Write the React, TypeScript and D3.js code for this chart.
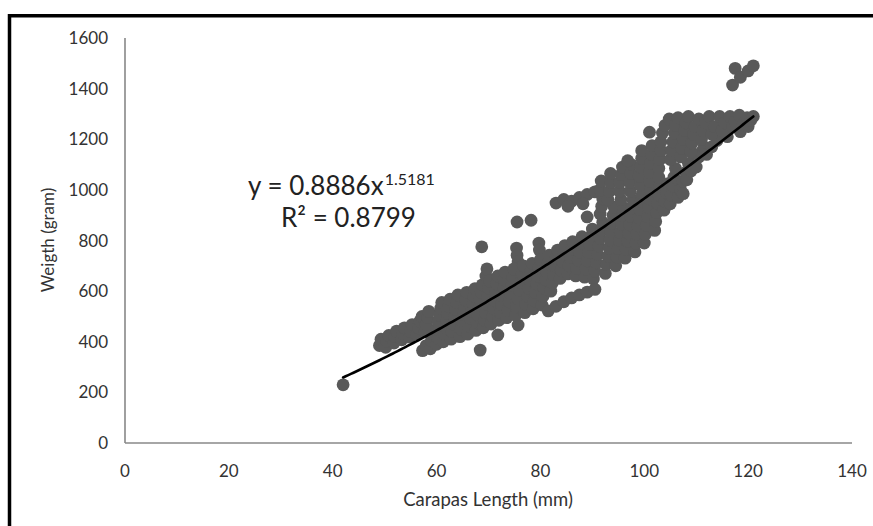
import React from "react";
import * as d3 from "d3";

// ---- data ----
const xTicks = [0, 20, 40, 60, 80, 100, 120, 140];
const yTicks = [0, 200, 400, 600, 800, 1000, 1200, 1400, 1600];
const xTitle = "Carapas Length (mm)";
const yTitle = "Weigth (gram)";
const trendA = 0.8886;
const trendB = 1.5181;
const trendRange = [42, 121];
const eqLine1 = "y = 0.8886x";
const eqSup = "1.5181";
const eqLine2 = "R² = 0.8799";

// [carapace length (mm), weight (g)]
const points: [number, number][] = [
  [42, 230],
  [49, 385], [49.3, 410], [50.2, 378], [50.5, 402], [50.8, 425], [51.8, 395], [52, 420], [52.3, 442],
  [53.3, 408], [53.5, 432], [53.8, 455], [54.8, 418], [55, 442], [55.3, 468], [56.2, 430], [56.5, 455],
  [56.8, 482], [57.2, 500], [57.8, 440], [58, 468], [58.3, 495], [58.5, 520],
  [57.3, 365], [58, 385], [58.8, 372], [59, 405], [59.5, 430], [60, 390], [60.3, 415],
  [60, 450], [60.3, 478], [60.6, 505], [60.8, 532], [61, 555], [61.3, 400], [61.5, 430], [61.8, 455],
  [62, 485], [62.2, 512], [62.4, 540], [62.6, 568], [62.8, 410], [63, 440], [63.3, 470], [63.5, 500],
  [63.7, 528], [63.9, 556], [64.1, 585],
  [64.5, 420], [64.7, 450], [65, 480], [65.2, 508], [65.4, 535], [65.6, 565], [65.8, 595], [66, 430],
  [66.3, 460], [66.5, 492], [66.8, 520], [67, 550], [67.2, 580], [67.4, 610], [67.6, 445], [67.8, 475],
  [68, 505], [68.2, 535], [68.4, 565], [68.6, 595], [68.8, 625], [69, 455], [69.2, 485], [69.4, 515],
  [69.6, 548], [69.8, 580], [70, 612], [69.5, 660], [69.7, 688], [70.2, 640], [70.5, 470], [70.8, 500],
  [71, 530], [71.2, 562], [71.4, 595], [71.6, 628], [71.8, 660], [72, 485], [72.3, 515], [72.5, 548],
  [72.8, 580], [73, 612], [73, 645], [73.2, 675],
  [68.4, 367], [71.8, 427], [75.7, 466], [68.7, 775], [75.4, 770], [75.5, 742], [75.7, 715], [79.7, 790],
  [79.8, 762], [75.5, 873], [78.2, 880],
  [73.5, 495], [73.8, 525], [74, 558], [74.2, 590], [74.5, 622], [74.7, 655], [74.9, 688], [75.2, 505],
  [75.4, 538], [75.7, 570], [76, 602], [76.2, 635], [76.5, 668], [76.7, 700], [77, 515], [77.2, 548],
  [77.5, 580], [77.7, 612], [77.9, 645], [78.2, 678], [78.4, 710], [78.6, 530], [78.8, 562], [79, 595],
  [79.3, 628], [79.5, 660], [79.7, 692], [80, 725],
  [80.3, 545], [80.5, 580], [80.7, 612], [81, 645], [81.2, 678], [81.5, 710], [81.7, 742], [81.5, 522],
  [82, 600], [82.3, 632], [82.5, 665], [82.8, 698], [83, 730], [83.3, 762], [83, 540], [83.8, 650],
  [84, 682], [84.3, 715], [84.5, 748], [84.7, 780], [84.5, 558], [85.3, 668], [85.5, 700], [85.8, 732],
  [86, 765], [86.2, 795], [86, 573],
  [83, 948], [84.5, 962], [86, 955], [87.5, 970], [89, 982], [90.5, 992], [85.3, 935], [88.2, 945], [89, 893],
  [86.8, 660], [87, 690], [87.3, 722], [87.5, 755], [87.8, 788], [88, 815], [87.5, 585], [88.5, 655],
  [88.7, 688], [89, 720], [89.3, 752], [89.5, 785], [89.8, 818], [90, 845], [89, 596], [90.2, 648],
  [90.5, 680], [90.8, 712], [91, 745], [91.2, 778], [91.5, 810], [91.8, 842], [92, 872], [90.5, 607],
  [91.5, 905], [91.8, 935], [92, 965], [91.5, 1000], [91.7, 1035],
  [92.5, 670], [92.7, 705], [93, 738], [93.2, 770], [93.4, 802], [93.6, 835], [93.8, 868], [94, 900],
  [94.2, 932], [93, 962], [93.3, 995], [93.5, 1030], [93.5, 1065], [94.5, 700], [94.7, 735], [95, 768],
  [95.2, 800], [95.4, 832], [95.6, 865], [95.8, 898], [96, 930], [95.5, 962], [95.2, 995], [95.3, 1030],
  [95.5, 1060], [95.8, 1090], [96.3, 730], [96.5, 765], [96.8, 798], [97, 830], [97.2, 862], [97.4, 895],
  [97.6, 928], [97.8, 960], [97.3, 995], [97.2, 1030], [97.4, 1065], [97.5, 1100], [96.8, 1115],
  [98.2, 755], [98.4, 790], [98.6, 825], [98.8, 858], [99, 890], [99.2, 922], [99.4, 955], [99.6, 985],
  [99.2, 1020], [99, 1055], [99.3, 1090], [99.5, 1125], [99.5, 1155], [100, 790], [100.2, 825],
  [100.4, 860], [100.6, 895], [100.8, 930], [101, 965], [101.2, 1000], [101, 1035], [101, 1070],
  [101.2, 1105], [101.4, 1140], [101.5, 1175], [101, 1228], [102, 840], [102.2, 875], [102.4, 910],
  [102.6, 945], [102.8, 980], [103, 1015], [102.8, 1050], [102.8, 1085], [103, 1120], [103.2, 1155],
  [103.2, 1190],
  [103.8, 920], [104, 955], [104.3, 990], [104.6, 1025], [105, 945], [105.2, 980], [105.5, 1015],
  [105.7, 1050], [106, 1085], [106.5, 970], [107, 1000], [107.5, 985], [107.5, 1035], [108, 1070],
  [108.2, 1040], [108.5, 1105], [109, 1075], [109.5, 1110], [110, 1090], [110.5, 1130], [111, 1150],
  [111.5, 1170], [112, 1140], [113, 1170], [114, 1195], [116, 1210],
  [103.5, 1225], [104, 1255], [104.8, 1280], [105, 1120], [105.2, 1155], [105.5, 1190], [105.8, 1225],
  [106, 1255], [106.5, 1285], [107, 1130], [107.2, 1165], [107.5, 1200], [107.8, 1235], [108, 1265],
  [108.5, 1290], [109, 1150], [109.2, 1185], [109.5, 1220], [109.8, 1250], [110.5, 1280], [111, 1200],
  [111.3, 1235], [111.8, 1265], [112.5, 1290], [113, 1220], [113.5, 1250], [114.5, 1290], [115, 1235],
  [115.5, 1265], [116.5, 1290], [117, 1250], [117.5, 1270], [118.3, 1295], [118.5, 1230], [119, 1260],
  [119.8, 1285], [120, 1250], [120.5, 1275], [121, 1290],
  [117, 1414], [117.5, 1480], [118.5, 1445], [120, 1470], [121, 1490],
];

const W = 873;
const H = 526;

export default function App() {
  const x = d3.scaleLinear().domain([0, 140]).range([125, 852]);
  const y = d3.scaleLinear().domain([0, 1600]).range([443, 38]);

  const trendData = d3.range(trendRange[0], trendRange[1] + 0.001, 0.5).map((v) => [v, trendA * Math.pow(v, trendB)] as [number, number]);
  const trendPath = d3
    .line<[number, number]>()
    .x((d) => x(d[0]))
    .y((d) => y(d[1]))(trendData) as string;

  const font = "Lato, 'Open Sans', sans-serif";
  const textColor = "#333";

  return (
    <svg width={W} height={H} style={{ position: "absolute", left: 0, top: 0, background: "#fff" }}>
      <rect x={0} y={0} width={W} height={H} fill="#fff" />
      <path d={`M9.5,${H} V15.7 H${W}`} fill="none" stroke="#000" strokeWidth={3.5} />

      {/* axes */}
      <line x1={x(0)} x2={x(0)} y1={y(1600)} y2={y(0)} stroke="#888" strokeWidth={1.6} />
      <line x1={x(0)} x2={x(140)} y1={y(0)} y2={y(0)} stroke="#888" strokeWidth={1.6} />

      {yTicks.map((t) => (
        <text key={"y" + t} x={108} y={y(t)} dy="0.36em" textAnchor="end" fontFamily={font} fontSize={17} fill={textColor}>
          {t}
        </text>
      ))}
      {xTicks.map((t) => (
        <text key={"x" + t} x={x(t)} y={477} textAnchor="middle" fontFamily={font} fontSize={17} fill={textColor}>
          {t}
        </text>
      ))}

      <text x={488} y={506} textAnchor="middle" fontFamily={font} fontSize={18.5} fill={textColor}>
        {xTitle}
      </text>
      <text transform={`translate(54,240) rotate(-90)`} textAnchor="middle" fontFamily={font} fontSize={17} fill={textColor}>
        {yTitle}
      </text>

      {/* points */}
      <g fill="#595959">
        {points.map((p, i) => (
          <circle key={i} cx={x(p[0])} cy={y(p[1])} r={6.4} />
        ))}
      </g>

      <path d={trendPath} fill="none" stroke="#000" strokeWidth={2.6} strokeLinecap="round" />

      <text x={248} y={195} fontFamily={font} fontSize={26} fill="#222">
        {eqLine1}
        <tspan dx={1} dy={-10} fontSize={16}>{eqSup}</tspan>
      </text>
      <text x={281} y={227} fontFamily={font} fontSize={26} fill="#222">
        {eqLine2}
      </text>
    </svg>
  );
}
